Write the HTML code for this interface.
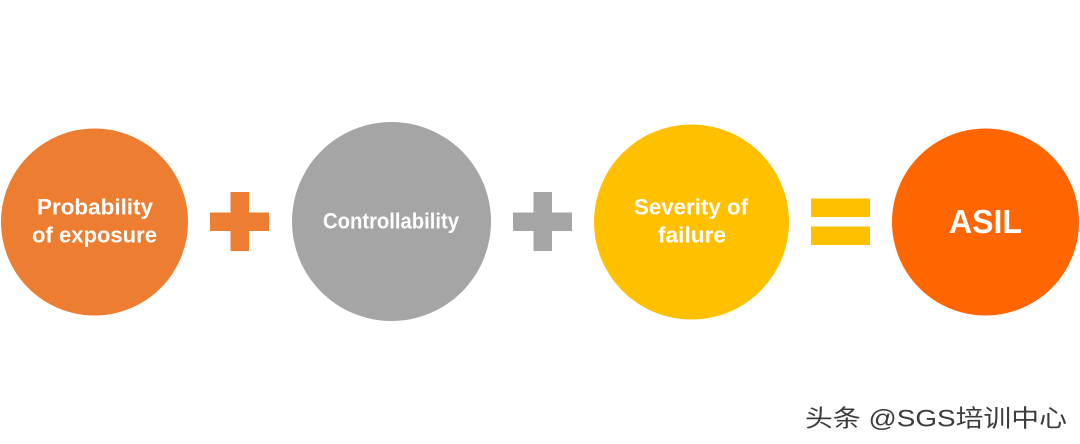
<!DOCTYPE html>
<html>
<head>
<meta charset="utf-8">
<style>
html,body{margin:0;padding:0;background:#fff;width:1080px;height:444px;overflow:hidden}
svg{display:block}
text{font-family:"Liberation Sans","Noto Sans CJK SC",sans-serif}
</style>
</head>
<body>
<svg width="1080" height="444" viewBox="0 0 1080 444" xmlns="http://www.w3.org/2000/svg">
<rect width="1080" height="444" fill="#fff"/>
<circle cx="94.5" cy="222" r="93.5" fill="#ed7d31"/>
<circle cx="391.5" cy="221.5" r="99.5" fill="#a5a5a5"/>
<circle cx="691.5" cy="222" r="97.5" fill="#ffc000"/>
<circle cx="985.5" cy="222" r="93.5" fill="#ff6600"/>
<path d="M230.5 192H249V212.5H269V231H249V251H230.5V231H210V212.5H230.5Z" fill="#ed7d31"/>
<path d="M533.5 192H552V212.5H572V231H552V251H533.5V231H513V212.5H533.5Z" fill="#a5a5a5"/>
<rect x="811" y="198.5" width="59" height="18.5" fill="#ffc000"/>
<rect x="811" y="226.5" width="59" height="18.5" fill="#ffc000"/>
<g fill="#fff" font-weight="700" font-size="22">
<text x="37" y="214.5" textLength="116" lengthAdjust="spacingAndGlyphs">Probability</text>
<text x="32" y="242.5" textLength="125" lengthAdjust="spacingAndGlyphs">of exposure</text>
<text x="323" y="228.5" textLength="136" lengthAdjust="spacingAndGlyphs">Controllability</text>
<text x="634" y="214.5" textLength="114" lengthAdjust="spacingAndGlyphs">Severity of</text>
<text x="658" y="242.5" textLength="68" lengthAdjust="spacingAndGlyphs">failure</text>
<text x="949" y="233" font-size="33" textLength="73" lengthAdjust="spacingAndGlyphs">ASIL</text>
</g>
<text x="805" y="426.5" font-size="24" fill="#3c3c3c" textLength="262" lengthAdjust="spacingAndGlyphs">头条 @SGS培训中心</text>
</svg>
</body>
</html>
